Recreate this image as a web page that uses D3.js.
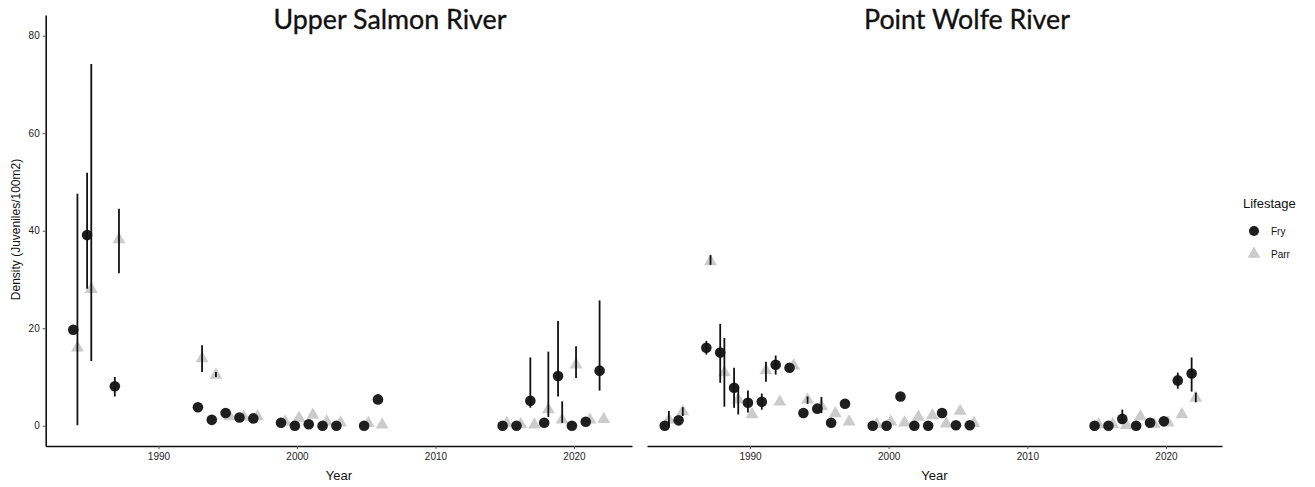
<!DOCTYPE html>
<html>
<head>
<meta charset="utf-8">
<script src="https://cdn.jsdelivr.net/npm/d3@7"></script>
<style>
  body { margin: 0; background: #fff; }
  svg { display: block; }
</style>
</head>
<body>
<svg></svg>
<script>
// Upper Salmon River
const usYears = [1984, 1985, 1987, 1993, 1994, 1995, 1996, 1997, 1999, 2000, 2001, 2002, 2003, 2005, 2006, 2015, 2016, 2017, 2018, 2019, 2020, 2021, 2022];
const usFry   = [19.7, 39.1, 8.1, 3.8, 1.2, 2.6, 1.7, 1.5, 0.6, 0, 0.3, 0, 0, 0, 5.4, 0, 0, 5.1, 0.6, 10.2, 0, 0.8, 11.3];
const usFryLo = [null, 28.1, 6, null, null, null, null, null, null, null, null, null, null, null, null, null, null, 3.7, null, 6, null, null, 7.2];
const usFryHi = [null, 51.9, 10, null, null, null, null, null, null, null, null, null, null, null, null, null, null, 14, null, 21.5, null, null, 25.7];
const usParr   = [16, 28, 38.2, 13.8, 10.4, 1.9, 1.8, 1.9, 0.8, 1.6, 2.2, 0.8, 0.6, 0.5, 0.2, 0.5, 0.3, 0.2, 3.3, 1.2, 12.5, 1.2, 1.3];
const usParrLo = [0.1, 13.3, 31.3, 11, 10, null, null, null, null, null, null, null, null, null, null, null, null, null, 1.8, 0.6, 9.8, null, null];
const usParrHi = [47.6, 74.2, 44.5, 16.5, 11, null, null, null, null, null, null, null, null, null, null, null, null, null, 15.2, 5, 16.3, null, null];

// Point Wolfe River
const pwYears = [1984, 1985, 1987, 1988, 1989, 1990, 1991, 1992, 1993, 1994, 1995, 1996, 1997, 1999, 2000, 2001, 2002, 2003, 2004, 2005, 2006, 2015, 2016, 2017, 2018, 2019, 2020, 2021, 2022];
const pwFry   = [0, 1.1, 16, 15, 7.8, 4.7, 4.9, 12.5, 11.9, 2.6, 3.5, 0.6, 4.5, 0, 0, 6, 0, 0, 2.6, 0.1, 0.1, 0, 0, 1.4, 0, 0.6, 0.9, 9.3, 10.7];
const pwFryLo = [null, null, 14.6, 8.8, 3.7, 2.7, 3.3, 10.5, null, null, null, null, null, null, null, null, null, null, null, null, null, null, null, 0.6, null, null, null, 7.6, 7];
const pwFryHi = [null, null, 17.4, 20.9, 11.9, 7.2, 6.6, 14.4, null, null, null, null, null, null, null, null, null, null, null, null, null, null, null, 3.3, null, null, null, 10.9, 14];
const pwParr   = [1.2, 2.9, 33.7, 10.9, 5.3, 2.3, 11.3, 4.9, 12.3, 5.3, 4, 2.5, 0.8, 0.3, 0.8, 0.6, 1.8, 2.1, 0.4, 3, 0.5, 0.2, 0.3, 0.1, 1.9, 0.3, 0.6, 2.3, 5.7];
const pwParrLo = [0, 2, 33, 3.9, 2.3, null, 9, null, null, 4.5, 2.6, null, null, null, null, null, null, null, null, null, null, null, null, null, null, null, null, null, 4.8];
const pwParrHi = [3, 3.8, 35, 18, 8, null, 13.1, null, null, 6, 5.9, null, null, null, null, null, null, null, null, null, null, null, null, null, null, null, null, null, 6.8];

const yTicks = [0, 20, 40, 60, 80];
const xTicks = [1990, 2000, 2010, 2020];
const stages = ["Fry", "Parr"];

const width = 1315, height = 487;
const plotTop = 15, plotBottom = 446;
const dodge = 0.15;

const svg = d3.select("svg")
  .attr("width", width)
  .attr("height", height)
  .style("font-family", "'Liberation Sans', Arial, sans-serif");

const y = d3.scaleLinear()
  .domain([-4.16, 84.25])
  .range([plotBottom, plotTop]);

const color = d3.scaleOrdinal().domain(stages).range(["#1e1e1e", "#cbcbcb"]);

function rows(years, fry, fryLo, fryHi, parr, parrLo, parrHi) {
  const out = [];
  years.forEach((yr, i) => {
    out.push({year: yr, stage: "Parr", v: parr[i], lo: parrLo[i], hi: parrHi[i]});
    out.push({year: yr, stage: "Fry", v: fry[i], lo: fryLo[i], hi: fryHi[i]});
  });
  return out;
}

const panels = [
  {title: "Upper Salmon River", x0: 45.7, x1: 632, domain: [1981.86, 2024.19], titleX: 390, yAxis: true,
   data: rows(usYears, usFry, usFryLo, usFryHi, usParr, usParrLo, usParrHi)},
  {title: "Point Wolfe River", x0: 647, x1: 1222, domain: [1982.57, 2024.04], titleX: 967, yAxis: false,
   data: rows(pwYears, pwFry, pwFryLo, pwFryHi, pwParr, pwParrLo, pwParrHi)}
];

const tri = d3.symbol(d3.symbolTriangle, 72)();

panels.forEach(p => {
  const x = d3.scaleLinear().domain(p.domain).range([p.x0, p.x1]);
  const g = svg.append("g");
  const px = d => x(d.year + (d.stage === "Fry" ? -dodge : dodge));

  // x axis
  const xAxis = g.append("g")
    .attr("transform", `translate(0,${plotBottom})`)
    .call(d3.axisBottom(x).tickValues(xTicks).tickFormat(d3.format("d")).tickSize(3).tickPadding(4).tickSizeOuter(0));
  xAxis.select(".domain").attr("stroke", "#111").attr("stroke-width", 1.6);
  xAxis.selectAll(".tick line").attr("stroke", "#555");
  xAxis.selectAll("text").attr("fill", "#222").style("font-size", "10px");

  if (p.yAxis) {
    const yAxis = g.append("g")
      .attr("transform", `translate(${p.x0},0)`)
      .call(d3.axisLeft(y).tickValues(yTicks).tickSize(3).tickPadding(3).tickSizeOuter(0));
    yAxis.select(".domain").attr("stroke", "#111").attr("stroke-width", 1.6);
    yAxis.selectAll(".tick line").attr("stroke", "#555");
    yAxis.selectAll("text").attr("fill", "#222").style("font-size", "10px");
  }

  // parr triangles
  g.append("g").selectAll("path")
    .data(p.data.filter(d => d.stage === "Parr"))
    .join("path")
    .attr("d", tri)
    .attr("transform", d => `translate(${px(d)},${y(d.v)})`)
    .attr("fill", color("Parr"));

  // fry circles
  g.append("g").selectAll("circle")
    .data(p.data.filter(d => d.stage === "Fry"))
    .join("circle")
    .attr("cx", px)
    .attr("cy", d => y(d.v))
    .attr("r", 5.3)
    .attr("fill", color("Fry"));

  // error bars
  g.append("g").selectAll("line")
    .data(p.data.filter(d => d.lo != null))
    .join("line")
    .attr("x1", px).attr("x2", px)
    .attr("y1", d => y(d.lo))
    .attr("y2", d => y(d.hi))
    .attr("stroke", "#111")
    .attr("stroke-width", 1.8);

  // titles
  svg.append("text")
    .attr("x", p.titleX)
    .attr("y", 29)
    .attr("text-anchor", "middle")
    .style("font-family", "Lato, 'Open Sans', sans-serif")
    .style("font-size", "26.8px")
    .attr("fill", "#111")
    .attr("stroke", "#111")
    .attr("stroke-width", 0.35)
    .text(p.title);

  svg.append("text")
    .attr("x", (p.x0 + p.x1) / 2)
    .attr("y", 480)
    .attr("text-anchor", "middle")
    .style("font-size", "13px")
    .attr("fill", "#111")
    .text("Year");
});

svg.append("text")
  .attr("transform", `translate(20,${(plotTop + plotBottom) / 2 - 1}) rotate(-90)`)
  .attr("text-anchor", "middle")
  .style("font-size", "12px")
  .attr("fill", "#111")
  .text("Density (Juveniles/100m2)");

// legend
const legend = svg.append("g").attr("transform", "translate(1243,0)");
legend.append("text")
  .attr("x", 0).attr("y", 208)
  .style("font-size", "13px")
  .attr("fill", "#111")
  .text("Lifestage");

const item = legend.selectAll("g.item")
  .data(stages)
  .join("g")
  .attr("class", "item")
  .attr("transform", (d, i) => `translate(11,${231 + i * 23})`);

item.filter(d => d === "Fry").append("circle").attr("r", 5).attr("fill", color("Fry"));
item.filter(d => d === "Parr").append("path").attr("d", tri).attr("fill", color("Parr"));
item.append("text")
  .attr("x", 17).attr("y", 4)
  .style("font-size", "10px")
  .attr("fill", "#111")
  .text(d => d);
</script>
</body>
</html>
